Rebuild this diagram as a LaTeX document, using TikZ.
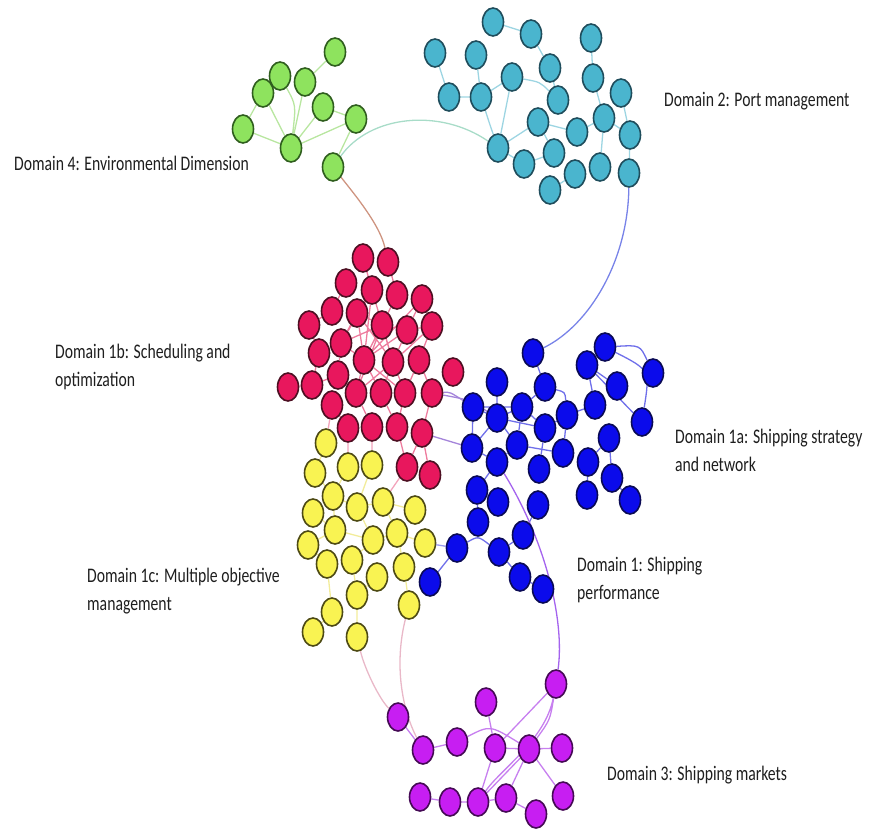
\documentclass[tikz,border=0pt]{standalone}
\usepackage{graphicx}
\usepackage{fontspec}
\setmainfont{Carlito}
\usepackage{tikz}
\usetikzlibrary{shapes.geometric,backgrounds}
\definecolor{EnvGreen}{HTML}{8EE35E}
\definecolor{EnvEdge}{HTML}{2F5E1E}
\definecolor{EnvLink}{HTML}{B8E6A0}
\definecolor{PortTeal}{HTML}{4AB5CE}
\definecolor{PortEdge}{HTML}{1F4D5C}
\definecolor{PortLink}{HTML}{9DD5E2}
\definecolor{SchedRed}{HTML}{E8175D}
\definecolor{SchedEdge}{HTML}{4D0F22}
\definecolor{SchedLink}{HTML}{EE7C9E}
\definecolor{StratBlue}{HTML}{0B0BEB}
\definecolor{StratEdge}{HTML}{0A0A55}
\definecolor{StratLink}{HTML}{6F6FEA}
\definecolor{MultiYellow}{HTML}{F9F352}
\definecolor{MultiEdge}{HTML}{4D4A14}
\definecolor{MultiLink}{HTML}{F2EC9A}
\definecolor{MarketViolet}{HTML}{C71EF2}
\definecolor{MarketEdge}{HTML}{450A55}
\definecolor{MarketLink}{HTML}{C77FEF}
\definecolor{CrossViolet}{HTML}{A585DA}
\definecolor{CrossMarket}{HTML}{A463EE}
\definecolor{CrossBrown}{HTML}{CE9480}
\definecolor{CrossPink}{HTML}{E9B8C8}
\definecolor{LabelText}{HTML}{1E1E1E}
\newcommand{\domlabel}[1]{\scalebox{1}[1.32]{\begin{tabular}{@{}l@{}}#1\end{tabular}}}
\tikzset{
  dot/.style={
    ellipse,
    minimum width=21pt,
    minimum height=28pt,
    inner sep=0pt,
    line width=1.6pt
  },
  envnode/.style={dot, fill=EnvGreen, draw=EnvEdge},
  portnode/.style={dot, fill=PortTeal, draw=PortEdge},
  schednode/.style={dot, fill=SchedRed, draw=SchedEdge},
  stratnode/.style={dot, fill=StratBlue, draw=StratEdge},
  multinode/.style={dot, fill=MultiYellow, draw=MultiEdge},
  marketnode/.style={dot, fill=MarketViolet, draw=MarketEdge},
  link/.style={line width=1.3pt},
  envlink/.style={link, draw=EnvLink},
  portlink/.style={link, draw=PortLink},
  schedlink/.style={link, draw=SchedLink},
  stratlink/.style={link, draw=StratLink},
  multilink/.style={link, draw=MultiLink},
  marketlink/.style={link, draw=MarketLink},
  domainlabel/.style={
    anchor=west,
    inner sep=0pt,
    font=\fontsize{15.7}{21}\selectfont,
    text=LabelText
  }
}
\begin{document}
\begin{tikzpicture}[x=1pt, y=-1pt]
\useasboundingbox (0,0) rectangle (877,832);

% Domain 4: environmental dimension
\node[envnode] (g1) at (335,52) {};
\node[envnode] (g2) at (280,76) {};
\node[envnode] (g3) at (305,82) {};
\node[envnode] (g4) at (263,93) {};
\node[envnode] (g5) at (323,107) {};
\node[envnode] (g6) at (356,119) {};
\node[envnode] (g7) at (243,129) {};
\node[envnode] (g8) at (291,148) {};
\node[envnode] (g9) at (333,167) {};

% Domain 2: port management
\node[portnode] (t1) at (493,22) {};
\node[portnode] (t2) at (531,34) {};
\node[portnode] (t3) at (435,53) {};
\node[portnode] (t4) at (476,55) {};
\node[portnode] (t5) at (591,38) {};
\node[portnode] (t6) at (550,68) {};
\node[portnode] (t7) at (512,77) {};
\node[portnode] (t8) at (593,78) {};
\node[portnode] (t9) at (449,97) {};
\node[portnode] (t10) at (481,97) {};
\node[portnode] (t11) at (558,100) {};
\node[portnode] (t12) at (621,93) {};
\node[portnode] (t13) at (538,122) {};
\node[portnode] (t14) at (604,118) {};
\node[portnode] (t15) at (577,132) {};
\node[portnode] (t16) at (630,135) {};
\node[portnode] (t17) at (498,148) {};
\node[portnode] (t18) at (554,153) {};
\node[portnode] (t19) at (524,164) {};
\node[portnode] (t20) at (575,174) {};
\node[portnode] (t21) at (600,167) {};
\node[portnode] (t22) at (629,173) {};
\node[portnode] (t23) at (550,190) {};

% Domain 1b: scheduling and optimization
\node[schednode] (r1) at (363,258) {};
\node[schednode] (r2) at (388,262) {};
\node[schednode] (r3) at (346,283) {};
\node[schednode] (r4) at (372,290) {};
\node[schednode] (r5) at (397,295) {};
\node[schednode] (r6) at (422,299) {};
\node[schednode] (r7) at (332,311) {};
\node[schednode] (r8) at (357,313) {};
\node[schednode] (r9) at (382,325) {};
\node[schednode] (r10) at (407,330) {};
\node[schednode] (r11) at (432,326) {};
\node[schednode] (r12) at (309,325) {};
\node[schednode] (r13) at (341,343) {};
\node[schednode] (r14) at (319,353) {};
\node[schednode] (r15) at (364,360) {};
\node[schednode] (r16) at (393,362) {};
\node[schednode] (r17) at (419,360) {};
\node[schednode] (r18) at (453,372) {};
\node[schednode] (r19) at (288,387) {};
\node[schednode] (r20) at (312,385) {};
\node[schednode] (r21) at (338,375) {};
\node[schednode] (r22) at (332,405) {};
\node[schednode] (r23) at (356,393) {};
\node[schednode] (r24) at (381,393) {};
\node[schednode] (r25) at (405,393) {};
\node[schednode] (r26) at (432,393) {};
\node[schednode] (r27) at (348,428) {};
\node[schednode] (r28) at (372,427) {};
\node[schednode] (r29) at (397,427) {};
\node[schednode] (r30) at (422,433) {};
\node[schednode] (r31) at (407,467) {};
\node[schednode] (r32) at (430,475) {};

% Domain 1a: shipping strategy and network
\node[stratnode] (b1) at (533,353) {};
\node[stratnode] (b2) at (605,347) {};
\node[stratnode] (b3) at (587,365) {};
\node[stratnode] (b4) at (653,373) {};
\node[stratnode] (b5) at (497,382) {};
\node[stratnode] (b6) at (545,387) {};
\node[stratnode] (b7) at (617,386) {};
\node[stratnode] (b8) at (473,407) {};
\node[stratnode] (b9) at (522,407) {};
\node[stratnode] (b10) at (567,415) {};
\node[stratnode] (b11) at (595,405) {};
\node[stratnode] (b12) at (642,422) {};
\node[stratnode] (b13) at (497,418) {};
\node[stratnode] (b14) at (545,428) {};
\node[stratnode] (b15) at (517,445) {};
\node[stratnode] (b16) at (472,448) {};
\node[stratnode] (b17) at (563,453) {};
\node[stratnode] (b18) at (609,438) {};
\node[stratnode] (b19) at (497,462) {};
\node[stratnode] (b20) at (539,469) {};
\node[stratnode] (b21) at (588,462) {};
\node[stratnode] (b22) at (612,478) {};
\node[stratnode] (b23) at (477,490) {};
\node[stratnode] (b24) at (587,495) {};
\node[stratnode] (b25) at (630,500) {};
\node[stratnode] (b26) at (498,502) {};
\node[stratnode] (b27) at (538,505) {};
\node[stratnode] (b28) at (478,522) {};
\node[stratnode] (b29) at (523,535) {};
\node[stratnode] (b30) at (457,548) {};
\node[stratnode] (b31) at (499,552) {};
\node[stratnode] (b32) at (430,582) {};
\node[stratnode] (b33) at (520,577) {};
\node[stratnode] (b34) at (543,589) {};

% Domain 1c: multiple objective management
\node[multinode] (y1) at (326,443) {};
\node[multinode] (y2) at (348,467) {};
\node[multinode] (y3) at (372,465) {};
\node[multinode] (y4) at (315,473) {};
\node[multinode] (y5) at (333,496) {};
\node[multinode] (y6) at (357,507) {};
\node[multinode] (y7) at (383,502) {};
\node[multinode] (y8) at (415,510) {};
\node[multinode] (y9) at (313,513) {};
\node[multinode] (y10) at (335,530) {};
\node[multinode] (y11) at (373,540) {};
\node[multinode] (y12) at (397,533) {};
\node[multinode] (y13) at (425,543) {};
\node[multinode] (y14) at (308,545) {};
\node[multinode] (y15) at (327,564) {};
\node[multinode] (y16) at (352,560) {};
\node[multinode] (y17) at (377,577) {};
\node[multinode] (y18) at (404,567) {};
\node[multinode] (y19) at (357,595) {};
\node[multinode] (y20) at (332,612) {};
\node[multinode] (y21) at (409,605) {};
\node[multinode] (y22) at (313,632) {};
\node[multinode] (y23) at (357,637) {};

% Domain 3: shipping markets
\node[marketnode] (m1) at (556,684) {};
\node[marketnode] (m2) at (486,702) {};
\node[marketnode] (m3) at (398,717) {};
\node[marketnode] (m4) at (423,750) {};
\node[marketnode] (m5) at (457,742) {};
\node[marketnode] (m6) at (495,748) {};
\node[marketnode] (m7) at (529,749) {};
\node[marketnode] (m8) at (562,748) {};
\node[marketnode] (m9) at (420,797) {};
\node[marketnode] (m10) at (450,802) {};
\node[marketnode] (m11) at (478,802) {};
\node[marketnode] (m12) at (506,798) {};
\node[marketnode] (m13) at (536,814) {};
\node[marketnode] (m14) at (563,796) {};

\begin{pgfonlayer}{background}
% links inside each domain
\draw[envlink] (g1) -- (g3) (g4) -- (g2) (g4) -- (g7) (g7) -- (g8)
  (g2) .. controls (296,105) .. (g8) (g3) -- (g8) (g4) -- (g8)
  (g5) -- (g8) (g5) -- (g6) (g8) -- (g6) (g6) -- (g9);
\draw[portlink] (t1) -- (t2) (t2) -- (t6) (t6) -- (t11) (t3) -- (t9)
  (t9) -- (t10) (t4) -- (t10) (t10) -- (t7) (t7) .. controls (540,82) .. (t11)
  (t7) -- (t17) (t10) .. controls (490,125) .. (t17) (t17) -- (t13)
  (t17) -- (t19) (t19) -- (t18) (t13) -- (t15) (t15) -- (t14)
  (t5) -- (t8) (t8) -- (t14) (t12) -- (t16) (t14) -- (t16)
  (t14) -- (t21) (t20) -- (t23) (t16) -- (t22) (t13) -- (t18);
\draw[schedlink] (r1) -- (r4) (r2) -- (r5) (r3) -- (r7) (r7) -- (r12)
  (r4) -- (r8) (r5) -- (r9) (r6) -- (r10) (r8) -- (r9) (r8) -- (r13)
  (r9) -- (r10) (r10) -- (r11) (r9) -- (r15) (r9) -- (r16) (r10) -- (r16)
  (r8) -- (r15) (r13) -- (r15) (r12) -- (r14) (r14) -- (r20) (r19) -- (r20)
  (r20) -- (r21) (r13) -- (r21) (r15) -- (r23) (r15) -- (r24) (r16) -- (r24)
  (r16) -- (r25) (r17) -- (r25) (r17) -- (r26) (r21) -- (r23) (r22) -- (r27)
  (r23) -- (r28) (r24) -- (r29) (r25) -- (r29) (r26) -- (r30) (r15) -- (r4)
  (r15) -- (r5) (r15) -- (r10) (r16) -- (r4) (r16) -- (r8) (r9) -- (r13)
  (r9) -- (r23) (r15) -- (r25) (r16) -- (r23) (r15) -- (r6) (r16) -- (r11)
  (r13) -- (r4) (r29) -- (r31) (r30) -- (r31) (r30) -- (r32) (r17) -- (r11);
\draw[stratlink] (b1) -- (b6) (b2) -- (b3) (b2) .. controls (640,345) .. (b4)
  (b2) .. controls (650,370) .. (b12) (b3) -- (b12) (b3) -- (b7) (b3) -- (b11)
  (b11) -- (b10) (b6) -- (b9) (b6) .. controls (565,392) .. (b10) (b5) -- (b13)
  (b8) -- (b13) (b8) -- (b16) (b9) -- (b13) (b9) -- (b14) (b13) -- (b15)
  (b13) -- (b14) (b13) -- (b16) (b15) -- (b17) (b14) -- (b20) (b16) -- (b19)
  (b15) -- (b19) (b17) -- (b10) (b18) -- (b21) (b21) -- (b24) (b18) -- (b22)
  (b22) -- (b25) (b10) -- (b14) (b19) -- (b23) (b23) -- (b28) (b23) -- (b26)
  (b27) -- (b29) (b29) -- (b31) (b31) -- (b33) (b33) -- (b34)
  (b30) .. controls (478,536) .. (b31) (b30) -- (b32) (b9) -- (b15) (b8) -- (b9);
\draw[multilink] (y2) -- (y5) (y3) -- (y6) (y5) -- (y6) (y6) -- (y7)
  (y7) -- (y8) (y6) -- (y11) (y7) -- (y12) (y9) -- (y10) (y10) -- (y11)
  (y11) -- (y12) (y12) -- (y13) (y12) -- (y18) (y11) -- (y16) (y14) -- (y15)
  (y15) -- (y20) (y16) -- (y19) (y17) -- (y19) (y20) -- (y22) (y19) -- (y23)
  (y18) -- (y21) (y10) -- (y14) (y4) -- (y5) (y1) -- (y4) (y5) -- (y10);
\draw[marketlink] (m3) -- (m4) (m4) -- (m5) (m5) .. controls (490,725) .. (m7)
  (m2) -- (m6) (m1) -- (m6) (m1) .. controls (550,720) .. (m7)
  (m1) .. controls (545,740) and (500,770) .. (m11) (m7) -- (m8) (m7) -- (m14)
  (m7) -- (m11) (m9) -- (m10) (m10) -- (m11) (m11) -- (m12) (m12) -- (m13)
  (m6) -- (m11) (m7) -- (m12) (m6) -- (m7);

% links between domains
\draw[link, draw=PortLink!60!EnvLink] (g9) .. controls (370,115) and (440,108) .. (t17);
\draw[link, draw=CrossBrown] (g9) .. controls (355,195) and (380,225) .. (r2);
\draw[link, draw=StratLink!80!PortLink] (t22) .. controls (628,260) and (590,325) .. (b1);
\draw[link, draw=CrossViolet] (r26) .. controls (450,392) .. (b8);
\draw[link, draw=CrossViolet] (r26) .. controls (470,400) .. (b13);
\draw[link, draw=CrossViolet] (r30) -- (b16);
\draw[link, draw=SchedLink!70] (r27) -- (y2) (r28) -- (y3) (r31) -- (y7) (r22) -- (y1);
\draw[link, draw=StratLink!70] (y13) -- (b30);
\draw[link, draw=CrossMarket] (b19) .. controls (545,540) and (565,620) .. (m1);
\draw[link, draw=CrossPink] (y21) .. controls (395,660) and (400,705) .. (m4);
\draw[link, draw=CrossPink] (y23) .. controls (365,670) and (380,700) .. (m3);
\end{pgfonlayer}

% domain labels
\node[domainlabel] (envlabel) at (14,165) {\domlabel{Domain 4: Environmental Dimension}};
\node[domainlabel] (portlabel) at (664,101) {\domlabel{Domain 2: Port management}};
\node[domainlabel] (schedlabel) at (55,367) {\domlabel{Domain 1b: Scheduling and\\optimization}};
\node[domainlabel] (stratlabel) at (675,452) {\domlabel{Domain 1a: Shipping strategy\\and network}};
\node[domainlabel] (perflabel) at (577,580) {\domlabel{Domain 1: Shipping\\performance}};
\node[domainlabel] (multilabel) at (87,591) {\domlabel{Domain 1c: Multiple objective\\management}};
\node[domainlabel] (marketlabel) at (607,775) {\domlabel{Domain 3: Shipping markets}};
\end{tikzpicture}
\end{document}
